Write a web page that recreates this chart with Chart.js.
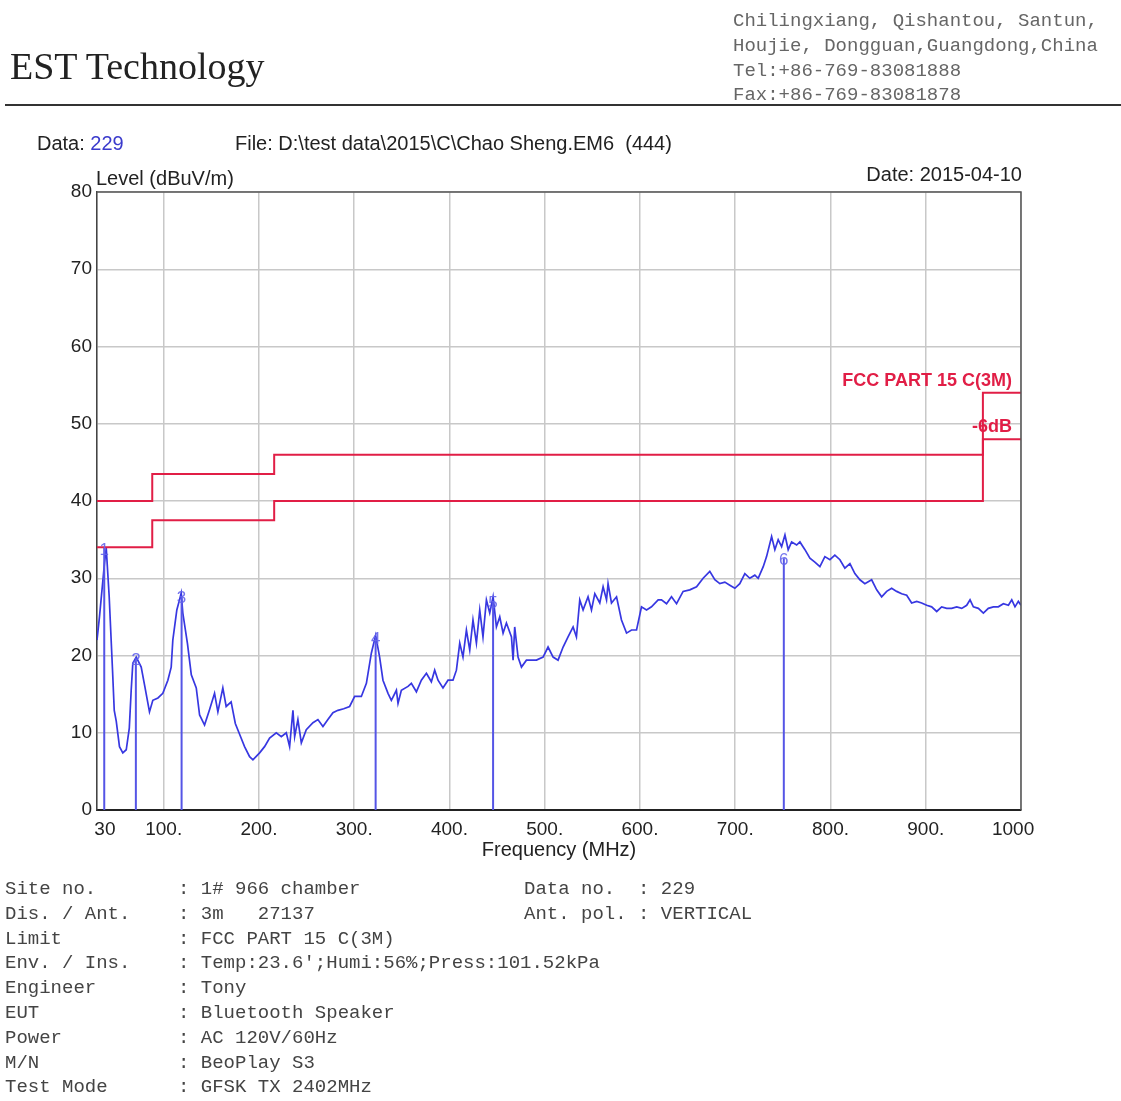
<!DOCTYPE html>
<html>
<head>
<meta charset="utf-8">
<script src="https://cdn.jsdelivr.net/npm/chart.js@4.4.1/dist/chart.umd.min.js"></script>
<style>
  html, body { margin:0; padding:0; background:#fff; }
  #page { position:relative; width:1121px; height:1101px; overflow:hidden; background:#fff; }
  #c { position:absolute; left:0; top:0; z-index:0; }
  .t { position:absolute; z-index:1; white-space:pre; }
  .sans { font-family:'Liberation Sans', Arial, sans-serif; color:#222; font-size:20px; line-height:24px; }
  .mono { font-family:'Liberation Mono', 'Courier New', monospace; color:#555; font-size:19px; line-height:24.8px; }
  .red { font-family:'Liberation Sans', Arial, sans-serif; color:rgb(225,30,70); font-size:18px; font-weight:bold; line-height:21.6px; }
</style>
</head>
<body>
<div id="page">
  <canvas id="c" width="1121" height="1101"></canvas>
  <div class="t" style="left:10px; top:45px; font-family:'Liberation Serif','Times New Roman',serif; font-size:38px; line-height:43.7px; color:#222;">EST Technology</div>
  <div class="t mono" style="left:733px; top:9px; color:#666;">Chilingxiang, Qishantou, Santun,
Houjie, Dongguan,Guangdong,China
Tel:+86-769-83081888
Fax:+86-769-83081878</div>
  <div style="position:absolute; left:5px; right:0; top:104px; height:2px; background:#333; z-index:1;"></div>
  <div class="t sans" style="left:37px; top:131px;">Data: <span style="color:#3a3acc;">229</span></div>
  <div class="t sans" style="left:235px; top:131px;">File: D:\test data\2015\C\Chao Sheng.EM6  (444)</div>
  <div class="t sans" style="left:96px; top:166px;">Level (dBuV/m)</div>
  <div class="t sans" style="right:99px; top:162px;">Date: 2015-04-10</div>
  <div class="t red" style="right:109px; top:370px;">FCC PART 15 C(3M)</div>
  <div class="t red" style="right:109px; top:416px;">-6dB</div>
  <div class="t mono" style="left:5px; top:877px; color:#444;">Site no.
Dis. / Ant.
Limit
Env. / Ins.
Engineer
EUT
Power
M/N
Test Mode</div>
  <div class="t mono" style="left:178px; top:877px; color:#444;">: 1# 966 chamber
: 3m   27137
: FCC PART 15 C(3M)
: Temp:23.6';Humi:56%;Press:101.52kPa
: Tony
: Bluetooth Speaker
: AC 120V/60Hz
: BeoPlay S3
: GFSK TX 2402MHz</div>
  <div class="t mono" style="left:524px; top:877px; color:#444;">Data no.  : 229
Ant. pol. : VERTICAL</div>
</div>
<script>
// ---- Data ----
const xTickValues = [30, 100, 200, 300, 400, 500, 600, 700, 800, 900, 1000];
const xTickLabels = ['   30', '100.', '200.', '300.', '400.', '500.', '600.', '700.', '800.', '900.', '1000   '];
const yTickValues = [0, 10, 20, 30, 40, 50, 60, 70, 80];

// Limit breakpoints: level starting at each listed frequency
const limitFreqs = [30, 88, 216, 960, 1000];
const limitLevels = [40, 43.5, 46, 54, 54];
const marginLevels = [34, 37.5, 40, 48, 48];

const markerFreqs = [37.6, 70.8, 118.8, 322.5, 445.8, 751.0];
const markerLevels = [33.9, 19.7, 27.6, 22.4, 27.0, 32.6];

const traceFreqs = [
  30, 32.6, 37.9, 39.7, 42.8, 46.3, 48.1, 50.2, 53.6, 57.1,
  60.7, 63.9, 65.9, 67.6, 71.2, 76.4, 79.9, 85.1, 88.6, 94.0,
  99.1, 104.4, 107.9, 109.6, 113.8, 116.6, 118.4, 120.1, 125.0, 129.0,
  134.2, 137.7, 142.9, 148.2, 153.4, 156.9, 162.1, 165.6, 170.8, 175.2,
  179.7, 184.9, 190.2, 193.7, 200.7, 205.9, 211.2, 218.2, 223.5, 228.7,
  232.2, 235.7, 237.5, 240.9, 244.5, 249.7, 256.7, 261.9, 267.2, 272.4,
  277.7, 282.9, 289.0, 295.2, 300.5, 307.5, 312.8, 318.0, 322.5, 326.7,
  330.2, 335.5, 339.0, 344.3, 346.0, 349.5, 356.5, 360.0, 365.3, 370.5,
  375.8, 381.0, 384.5, 388.0, 393.2, 398.5, 403.7, 407.3, 410.8, 414.2,
  417.8, 421.3, 424.7, 428.3, 431.8, 435.2, 438.8, 442.3, 445.8, 449.3,
  452.8, 456.3, 459.8, 465.1, 466.8, 468.5, 472.0, 475.6, 480.8, 486.1,
  491.3, 498.3, 503.5, 508.8, 514.0, 519.3, 524.5, 529.8, 533.3, 536.8,
  540.3, 545.5, 549.1, 552.6, 557.8, 561.3, 564.9, 566.5, 570.1, 575.4,
  580.6, 585.9, 591.1, 596.4, 601.6, 606.9, 612.1, 619.1, 622.6, 627.9,
  633.1, 638.4, 645.3, 652.3, 659.4, 666.3, 673.3, 678.6, 683.8, 689.1,
  694.3, 699.6, 704.8, 710.1, 715.3, 720.6, 724.1, 729.4, 732.9, 738.2,
  741.6, 745.1, 748.7, 752.2, 755.6, 759.2, 764.5, 767.9, 773.2, 778.4,
  783.6, 788.9, 794.1, 799.4, 804.6, 809.9, 815.1, 820.4, 825.6, 830.9,
  836.1, 843.2, 848.5, 853.7, 859.0, 864.2, 869.5, 874.7, 880.0, 885.2,
  890.5, 895.7, 901.0, 906.2, 911.5, 916.7, 922.0, 927.2, 932.5, 937.8,
  943.0, 946.5, 950.0, 955.2, 960.5, 965.7, 971.0, 976.2, 981.5, 986.8,
  990.3, 993.7, 997.2, 1000
];
const traceLevels = [
  22.0, 25.0, 32.0, 33.9, 27.6, 18.1, 12.9, 11.5, 8.2, 7.4,
  7.8, 10.6, 15.5, 19.0, 19.8, 18.5, 16.2, 12.7, 14.2, 14.5,
  15.1, 16.8, 18.5, 22.0, 25.9, 27.2, 28.1, 25.5, 21.5, 17.5,
  15.8, 12.3, 11.0, 13.0, 15.1, 12.7, 15.8, 13.4, 14.0, 11.2,
  9.8, 8.2, 6.9, 6.5, 7.4, 8.2, 9.3, 10.0, 9.5, 10.0,
  8.2, 12.9, 9.5, 11.7, 8.7, 10.4, 11.3, 11.7, 10.8, 11.7,
  12.6, 12.9, 13.1, 13.4, 14.7, 14.7, 16.4, 20.3, 22.6, 19.8,
  16.8, 15.1, 14.2, 15.5, 13.8, 15.5, 16.0, 16.4, 15.3, 16.8,
  17.7, 16.6, 18.1, 16.8, 15.8, 16.8, 16.8, 18.1, 21.6, 19.8,
  23.3, 20.7, 24.6, 21.6, 25.9, 22.4, 27.2, 25.5, 27.6, 23.7,
  25.0, 22.9, 24.2, 22.4, 19.4, 23.7, 19.8, 18.5, 19.4, 19.4,
  19.4, 19.8, 21.1, 19.8, 19.4, 21.1, 22.4, 23.7, 22.4, 27.2,
  25.9, 27.6, 25.9, 28.0, 26.8, 28.9, 27.2, 29.3, 26.8, 27.6,
  24.6, 22.9, 23.3, 23.3, 26.3, 25.9, 26.3, 27.2, 27.2, 26.7,
  27.6, 26.7, 28.3, 28.5, 28.9, 30.0, 30.9, 29.8, 29.3, 29.5,
  29.1, 28.7, 29.3, 30.6, 30.0, 30.4, 30.0, 31.5, 32.8, 35.4,
  33.7, 35.0, 34.1, 35.6, 33.7, 34.7, 34.3, 34.7, 33.7, 32.6,
  32.1, 31.5, 32.8, 32.4, 33.0, 32.4, 31.3, 31.9, 30.6, 29.8,
  29.3, 29.8, 28.5, 27.6, 28.3, 28.7, 28.3, 28.0, 27.8, 26.8,
  27.0, 26.8, 26.5, 26.3, 25.7, 26.3, 26.1, 26.1, 26.3, 26.1,
  26.5, 27.2, 26.3, 26.1, 25.5, 26.1, 26.3, 26.3, 26.7, 26.5,
  27.2, 26.3, 27.0, 26.5
];

// ---- Build datasets ----
const RED = 'rgb(225,30,70)';
const BLUE = 'rgb(55,55,225)';
const FONT = "'Liberation Sans', Arial, sans-serif";

const datasets = [];
datasets.push({
  data: limitFreqs.map((f, i) => ({ x: f, y: limitLevels[i] })),
  showLine: true, stepped: 'before', borderColor: RED, borderWidth: 2, pointRadius: 0
});
datasets.push({
  data: limitFreqs.map((f, i) => ({ x: f, y: marginLevels[i] })),
  showLine: true, stepped: 'before', borderColor: RED, borderWidth: 2, pointRadius: 0
});
markerFreqs.forEach((f, i) => {
  datasets.push({
    data: [{ x: f, y: 0 }, { x: f, y: markerLevels[i] }],
    showLine: true, borderColor: 'rgb(85,85,230)', borderWidth: 2, pointRadius: 0
  });
});
datasets.push({
  data: traceFreqs.map((f, i) => ({ x: f, y: traceLevels[i] })),
  showLine: true, borderColor: BLUE, borderWidth: 1.7, pointRadius: 0, tension: 0
});

const framePlugin = {
  id: 'frame',
  afterDatasetsDraw(chart) {
    const { ctx, chartArea: a } = chart;
    ctx.save();
    ctx.strokeStyle = '#555';
    ctx.lineWidth = 1.5;
    ctx.beginPath();
    ctx.moveTo(a.left, a.top);
    ctx.lineTo(a.right, a.top);
    ctx.lineTo(a.right, a.bottom);
    ctx.stroke();
    ctx.restore();
  }
};

const markerLabelPlugin = {
  id: 'markerLabels',
  afterDatasetsDraw(chart) {
    const { ctx } = chart;
    const xs = chart.scales.x, ys = chart.scales.y;
    ctx.save();
    ctx.fillStyle = 'rgba(100,100,235,0.9)';
    ctx.font = '17px ' + FONT;
    ctx.textAlign = 'center';
    ctx.textBaseline = 'middle';
    markerFreqs.forEach((f, i) => {
      ctx.fillText(String(i + 1), xs.getPixelForValue(f), ys.getPixelForValue(markerLevels[i]) + 2);
    });
    ctx.restore();
  }
};

new Chart(document.getElementById('c').getContext('2d'), {
  type: 'scatter',
  data: { datasets },
  options: {
    responsive: false,
    animation: false,
    devicePixelRatio: 1,
    layout: { padding: { left: 0, top: 192, right: 100, bottom: 231 } },
    plugins: { legend: { display: false }, tooltip: { enabled: false } },
    scales: {
      x: {
        type: 'linear', min: 30, max: 1000,
        afterBuildTicks: s => { s.ticks = xTickValues.map(v => ({ value: v })); },
        afterFit: s => { s.height = 60; },
        grid: { color: '#c8c8c8', lineWidth: 1.5, drawTicks: false },
        border: { display: true, color: '#222', width: 2 },
        ticks: {
          autoSkip: false, maxRotation: 0, minRotation: 0, padding: 8, color: '#222',
          font: { family: FONT, size: 19 },
          callback: (v, i) => xTickLabels[i]
        },
        title: {
          display: true, text: 'Frequency (MHz)', color: '#222',
          font: { family: FONT, size: 20 }, padding: { top: 0, bottom: 8 }
        }
      },
      y: {
        type: 'linear', min: 0, max: 80,
        afterBuildTicks: s => { s.ticks = yTickValues.map(v => ({ value: v })); },
        afterFit: s => { s.width = 97; },
        grid: { color: '#c8c8c8', lineWidth: 1.5, drawTicks: false },
        border: { display: true, color: '#444', width: 1.5 },
        ticks: { padding: 5, color: '#222', font: { family: FONT, size: 19 } }
      }
    }
  },
  plugins: [framePlugin, markerLabelPlugin]
});
</script>
</body>
</html>
